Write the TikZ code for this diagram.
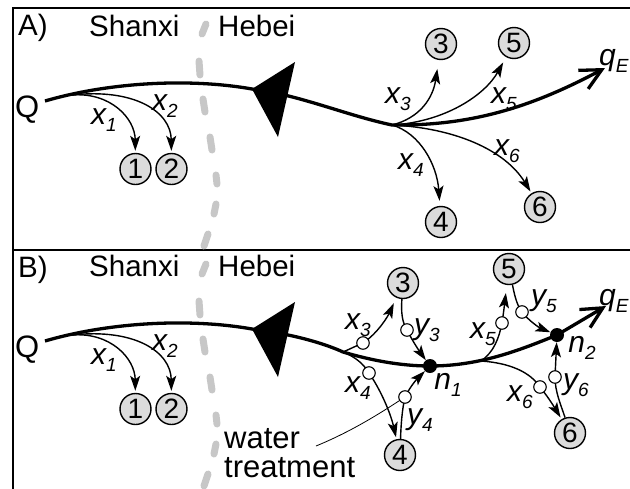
\documentclass[tikz,border=0pt]{standalone}
\usepackage{fontspec}
\setmainfont{Liberation Sans}
\usetikzlibrary{arrows.meta}
\newcommand\lbl[2]{\fontsize{30}{30}\selectfont\itshape #1\raisebox{-7pt}{\fontsize{19}{19}\selectfont #2}}
\begin{document}
\begin{tikzpicture}[x=1pt,y=-1pt,
  mainln/.style={line width=3.3pt},
  brln/.style={line width=1.4pt,-{Stealth[length=15pt,width=10pt,inset=3.5pt]}},
  bigc/.style={circle,draw,line width=1.4pt,fill=black!14,minimum size=31pt,inner sep=0pt,font=\fontsize{28}{28}\selectfont},
  smc/.style={circle,draw,line width=1.1pt,fill=white,minimum size=12.5pt,inner sep=0pt},
  dotn/.style={circle,fill=black,minimum size=14pt,inner sep=0pt},
  lab/.style={inner sep=0pt},
  txt/.style={anchor=base west,inner sep=0pt,font=\fontsize{29.5}{29.5}\selectfont},
  bnd/.style={line width=7pt,line cap=round,draw=black!22},
  qarrow/.style={-{Straight Barb[length=21pt,width=21pt]}},
  pointer/.style={line width=0.8pt},
  frame/.style={line width=2.2pt}
]
\useasboundingbox (0,0) rectangle (630,488);

% frame
\draw[frame] (13,494) -- (13,8) -- (636,8);
\draw[frame] (13,250) -- (636,250);

% common parts of both panels
\foreach \p/\dy in {A/0,B/240} {
  \begin{scope}[yshift=-\dy pt]
    \foreach \xa/\ya/\xb/\yb in {206/24/202/34, 199/61/200/75, 203/99/205/112, 210/137/212/150, 216/175/217/184, 216/204/214/214, 208/234/204/246}
      \draw[bnd] (\xa,\ya) -- (\xb,\yb);
    \node[txt] (sx\p) at (89,36) {Shanxi};
    \node[txt] (hb\p) at (218,36) {Hebei};
    \node[txt,font=\fontsize{31}{31}\selectfont] (Q\p) at (15,117) {Q};
    \coordinate (s\p) at (45,101);
    \coordinate (o\p) at (72,95);
    \node[bigc] (c1\p) at (135.5,169) {1};
    \node[bigc] (c2\p) at (171.5,169) {2};
    \draw[brln,shorten >=2pt] (o\p) .. controls (110,92) and (135,118) .. (c1\p);
    \draw[brln,shorten >=2pt] (o\p) .. controls (135,88) and (171,112) .. (c2\p);
    \node[lab] (x1\p) at (104,120) {\lbl{x}{1}};
    \node[lab] (x2\p) at (165,106) {\lbl{x}{2}};
    \fill (252,89) -- (295,62) -- (278,137) -- cycle;
  \end{scope}
}

\node[txt] (pA) at (18,35) {A)};
\node[txt] (pB) at (18,277) {B)};

% ---------- panel A ----------
\coordinate (J) at (392,125);
\coordinate (eA) at (605,68);
\draw[mainln,qarrow] (sA) .. controls (110,82) and (190,78) .. (252,89)
  .. controls (300,95) and (345,115) .. (J)
  .. controls (470,126) and (530,108) .. (eA);
\node[bigc] (c3A) at (441,44) {3};
\node[bigc] (c4A) at (441,222) {4};
\node[bigc] (c5A) at (514,43) {5};
\node[bigc] (c6A) at (540,207) {6};
\draw[brln,shorten >=9pt] (J) .. controls (420,118) and (433,98) .. (c3A);
\draw[brln,shorten >=6pt] (J) .. controls (445,122) and (485,95) .. (c5A);
\draw[brln,shorten >=5pt] (J) .. controls (420,133) and (437,165) .. (c4A);
\draw[brln,shorten >=2pt] (J) .. controls (455,128) and (505,150) .. (c6A);
\node[lab] (x3A) at (398,99) {\lbl{x}{3}};
\node[lab] (x5A) at (504,99) {\lbl{x}{5}};
\node[lab] (x4A) at (411,165) {\lbl{x}{4}};
\node[lab] (x6A) at (507,151) {\lbl{x}{6}};
\node[lab,anchor=base west] (qA) at (599,65) {\lbl{q}{E}};

% ---------- panel B ----------
\coordinate (b1) at (343,352);
\coordinate (b2) at (481,361);
\coordinate (eB) at (606,306);
\node[dotn] (n1) at (430,366) {};
\node[dotn] (n2) at (557,335) {};
\draw[mainln,qarrow] (sB) .. controls (110,322) and (190,318) .. (252,329)
  .. controls (300,335) and (330,346) .. (b1)
  .. controls (370,360) and (400,366) .. (n1.center)
  .. controls (480,366) and (520,350) .. (n2.center) -- (eB);
\node[bigc] (c3B) at (403,283) {3};
\node[bigc] (c4B) at (400,455) {4};
\node[bigc] (c5B) at (509,269) {5};
\node[bigc] (c6B) at (570,433) {6};
\coordinate (s3x) at (363,343);
\coordinate (s3y) at (407,330);
\coordinate (s4x) at (369,373);
\coordinate (s4y) at (405,397);
\coordinate (s5x) at (502,323);
\coordinate (s5y) at (522,312);
\coordinate (s6x) at (540,387);
\coordinate (s6y) at (555,377);
\draw[brln,shorten >=6pt] (b1) .. controls (352,348) and (356,346) .. (s3x) .. controls (378,333) and (388,316) .. (c3B);
\draw[brln] (c3B) .. controls (401,312) and (402,322) .. (s3y) .. controls (413,342) and (420,352) .. (n1);
\draw[brln,shorten >=2pt] (b1) .. controls (355,357) and (363,363) .. (s4x) .. controls (382,392) and (391,415) .. (c4B);
\draw[brln] (c4B) .. controls (401,425) and (402,410) .. (s4y) .. controls (410,387) and (416,380) .. (n1);
\draw[brln,shorten >=8pt] (b2) .. controls (494,352) and (499,338) .. (s5x) .. controls (504,310) and (505,300) .. (c5B);
\draw[brln] (c5B) .. controls (514,292) and (516,304) .. (s5y) .. controls (530,322) and (540,328) .. (n2);
\draw[brln,shorten >=2pt] (b2) .. controls (510,363) and (530,372) .. (s6x) .. controls (548,397) and (553,405) .. (c6B);
\draw[brln] (c6B) .. controls (561,405) and (555,392) .. (s6y) -- (n2);

\node[txt,font=\fontsize{31}{31}\selectfont] (w1) at (224,448) {water};
\node[txt,font=\fontsize{31}{31}\selectfont] (w2) at (224,477) {treatment};
\coordinate (wp) at (316,446);
\draw[pointer] (wp) .. controls (355,430) and (385,410) .. (s4y);

\foreach \s in {s3x,s3y,s4x,s4y,s5x,s5y,s6x,s6y}
  \node[smc] (S\s) at (\s) {};

\node[lab] (lx3B) at (358,325) {\lbl{x}{3}};
\node[lab] (ly3B) at (427,330) {\lbl{y}{3}};
\node[lab] (lx4B) at (358,388) {\lbl{x}{4}};
\node[lab] (ly4B) at (420,420) {\lbl{y}{4}};
\node[lab] (lx5B) at (483,334) {\lbl{x}{5}};
\node[lab] (ly5B) at (544,301) {\lbl{y}{5}};
\node[lab] (lx6B) at (520,397) {\lbl{x}{6}};
\node[lab] (ly6B) at (576,385) {\lbl{y}{6}};
\node[lab] (ln1) at (448,385) {\lbl{n}{1}};
\node[lab] (ln2) at (582,348) {\lbl{n}{2}};
\node[lab,anchor=base west] (qB) at (599,305) {\lbl{q}{E}};
\end{tikzpicture}
\end{document}
